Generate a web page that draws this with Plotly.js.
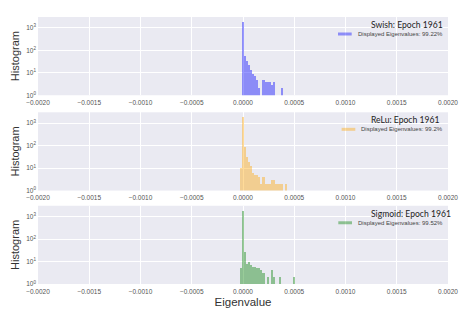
<!DOCTYPE html>
<html>
<head>
<meta charset="utf-8">
<script src="https://cdn.plot.ly/plotly-3.0.1.min.js"></script>
<style>html,body{margin:0;padding:0;background:#fff;}#chart{width:468px;height:318px;}</style>
</head>
<body>
<div id="chart"></div>
<script>
// ---- data (bin centres in eigenvalue units, counts per bin) ----
const swishBins   = [0, 0.00002, 0.00004, 0.00006, 0.00008, 0.00010, 0.00012, 0.00014, 0.00016,
                     0.00020, 0.00022, 0.00024, 0.00026, 0.00028, 0.00030, 0.00038];
const swishCounts = [1780, 58, 33, 22, 13, 9, 7, 5, 2,
                     5, 4, 4, 4, 3, 4, 2];

const reluBins    = [-0.00002, 0, 0.00002, 0.00004, 0.00006, 0.00008, 0.00010, 0.00012, 0.00014, 0.00016,
                     0.00018, 0.00020, 0.00022, 0.00024, 0.00026, 0.00028, 0.00030, 0.00032, 0.00034,
                     0.00036, 0.00038, 0.00042];
const reluCounts  = [10, 1850, 85, 30, 18, 12, 6, 5, 5, 4,
                     2, 4, 2, 2, 2, 3, 3, 2, 2,
                     2, 2, 2];

const sigmoidBins   = [-0.00002, 0, 0.00002, 0.00004, 0.00006, 0.00008, 0.00010, 0.00012, 0.00014,
                       0.00016, 0.00018, 0.00020, 0.00024, 0.00028, 0.00030, 0.00036, 0.00050];
const sigmoidCounts = [5, 1730, 27, 8, 10, 7, 6, 6, 5,
                       5, 4, 3, 2, 4, 2, 2, 2];

const panelTitles  = ['Swish: Epoch 1961', 'ReLu: Epoch 1961', 'Sigmoid: Epoch 1961'];
const legendLabels = ['Displayed Eigenvalues: 99.22%', 'Displayed Eigenvalues: 99.2%', 'Displayed Eigenvalues: 99.52%'];
const xTickVals  = [-0.002, -0.0015, -0.001, -0.0005, 0, 0.0005, 0.001, 0.0015, 0.002];
const yTickVals  = [1, 10, 100, 1000];
const yTickText  = ['10<sup>0</sup>', '10<sup>1</sup>', '10<sup>2</sup>', '10<sup>3</sup>'];
const xAxisLabel = 'Eigenvalue';
const yAxisLabel = 'Histogram';

// ---- styling / layout constants ----
const W = 468, H = 318;
const M = {l: 38, r: 20, t: 17, b: 34};
const colors = ['rgba(0,0,255,0.4)', 'rgba(255,165,0,0.4)', 'rgba(0,128,0,0.4)'];
const series = [[swishBins, swishCounts], [reluBins, reluCounts], [sigmoidBins, sigmoidCounts]];
const domains = [[0.707, 1], [0.350, 0.643], [0, 0.293]];
const binWidth = 0.00002;
// legend key placement in page pixels (left of patch, left of label, left of title)
const keyPatchX = [338, 341.6, 338.3];
const keyLabelX = [355.7, 359.3, 356];
const keyTitleX = 369.3;

const plotW = W - M.l - M.r, plotH = H - M.t - M.b;
const pxX = px => (px - M.l) / plotW;
const pxY = py => (H - M.b - py) / plotH;
const panelTopPx = i => H - M.b - domains[i][1] * plotH;

const tickFont = {family: 'Liberation Sans, Arial, sans-serif', size: 6.5, color: '#555'};
const titleFont = {family: 'Liberation Sans, Arial, sans-serif', size: 11, color: '#333'};

const traces = series.map((s, i) => ({
  type: 'bar',
  x: s[0],
  y: s[1],
  width: binWidth,
  name: legendLabels[i],
  marker: {color: colors[i], line: {width: 0}},
  xaxis: i === 0 ? 'x' : 'x' + (i + 1),
  yaxis: i === 0 ? 'y' : 'y' + (i + 1),
  showlegend: false,
  hoverinfo: 'x+y'
}));

const layout = {
  width: W, height: H,
  margin: M,
  paper_bgcolor: '#ffffff',
  plot_bgcolor: '#EAEAF2',
  bargap: 0,
  showlegend: false,
  annotations: [],
  shapes: []
};

for (let i = 0; i < 3; i++) {
  const sfx = i === 0 ? '' : String(i + 1);
  const xa = {
    domain: [0, 1],
    anchor: 'y' + sfx,
    range: [-0.002, 0.002],
    tickvals: xTickVals,
    tickformat: '.4f',
    ticks: '', showline: false, zeroline: false,
    showgrid: true, gridcolor: '#ffffff', gridwidth: 1,
    tickfont: tickFont,
    ticklabelstandoff: 2
  };
  if (i === 2) xa.title = {text: xAxisLabel, font: {...titleFont, size: 11.5}, standoff: 4};
  layout['xaxis' + sfx] = xa;
  layout['yaxis' + sfx] = {
    domain: domains[i],
    anchor: 'x' + sfx,
    type: 'log',
    range: [0, 3.48],
    tickvals: yTickVals,
    ticktext: yTickText,
    ticks: '', showline: false, zeroline: false,
    showgrid: true, gridcolor: '#ffffff', gridwidth: 1,
    tickfont: tickFont,
    ticklabelstandoff: 1,
    title: {text: yAxisLabel, font: titleFont, standoff: 4}
  };

  const top = panelTopPx(i);
  // legend title
  layout.annotations.push({
    xref: 'paper', yref: 'paper',
    x: pxX(keyTitleX), y: pxY(top + 8),
    xanchor: 'left', yanchor: 'middle',
    text: panelTitles[i], showarrow: false,
    font: {family: 'Lato, sans-serif', size: 8.6, color: '#222'}
  });
  // legend label
  layout.annotations.push({
    xref: 'paper', yref: 'paper',
    x: pxX(keyLabelX[i]), y: pxY(top + 17),
    xanchor: 'left', yanchor: 'middle',
    text: legendLabels[i], showarrow: false,
    font: {family: 'Liberation Sans, Arial, sans-serif', size: 6, color: '#444'}
  });
  // legend colour patch
  layout.shapes.push({
    type: 'rect', xref: 'paper', yref: 'paper',
    x0: pxX(keyPatchX[i]), x1: pxX(keyPatchX[i] + 13.7),
    y0: pxY(top + 18.5), y1: pxY(top + 15.5),
    fillcolor: colors[i], line: {width: 0}, layer: 'above'
  });
}

Plotly.newPlot('chart', traces, layout, {displayModeBar: false, staticPlot: true});
</script>
</body>
</html>
